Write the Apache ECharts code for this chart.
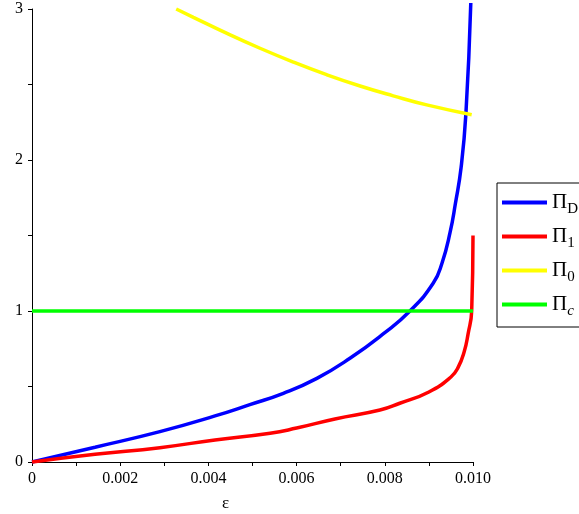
<!DOCTYPE html>
<html>
<head>
<meta charset="utf-8">
<script src="https://cdn.jsdelivr.net/npm/echarts@6/dist/echarts.min.js"></script>
<style>html,body{margin:0;padding:0;background:#fff;}#c{width:579px;height:514px;}</style>
</head>
<body>
<div id="c"></div>
<script>
var xTicks = [0, 0.002, 0.004, 0.006, 0.008, 0.010];
var yTicks = [0, 1, 2, 3];

var piD_eps = [0, 0.00143, 0.0029, 0.00415, 0.00494, 0.0057, 0.00646, 0.00721, 0.00797, 0.00857, 0.0091, 0.0093, 0.00948, 0.0096, 0.00973, 0.00984, 0.00995];
var piD_val = [0, 0.098, 0.201, 0.305, 0.38, 0.455, 0.554, 0.687, 0.85, 1.0, 1.185, 1.32, 1.52, 1.71, 1.95, 2.31, 3.04];

var pi1_eps = [0, 0.00143, 0.0029, 0.00415, 0.0054, 0.006, 0.00687, 0.00789, 0.00834, 0.009, 0.0095, 0.00966, 0.0098, 0.00989, 0.00997, 0.0100];
var pi1_val = [0, 0.051, 0.095, 0.146, 0.19, 0.225, 0.285, 0.344, 0.389, 0.464, 0.563, 0.625, 0.73, 0.85, 1.0, 1.5];

var pi0_eps = [0.00327, 0.00366, 0.00441, 0.00517, 0.00593, 0.00668, 0.00744, 0.00819, 0.00895, 0.00997];
var pi0_val = [3.0, 2.945, 2.84, 2.74, 2.648, 2.565, 2.49, 2.425, 2.365, 2.30];

var pic_eps = [0, 0.0100];
var pic_val = [1, 1];

var names = ['Π_D', 'Π_1', 'Π_0', 'Π_c'];
var colors = ['#0000ff', '#ff0000', '#ffff00', '#00ff00'];

function zip(a, b) { return a.map(function (v, i) { return [v, b[i]]; }); }

var font = '"Liberation Serif", "DejaVu Serif", serif';
var chart = echarts.init(document.getElementById('c'), null, {renderer: 'canvas'});

function mk(i, xs, ys) {
  return {
    name: names[i], type: 'line', data: zip(xs, ys), showSymbol: false,
    smooth: 0.5, clip: false,
    lineStyle: {color: colors[i], width: 3.5}, itemStyle: {color: colors[i]}
  };
}

chart.setOption({
  animation: false,
  backgroundColor: '#fff',
  grid: {left: 32, right: 106, top: 9, bottom: 52, containLabel: false},
  xAxis: {
    type: 'value', min: 0, max: 0.010, interval: 0.002,
    axisLine: {lineStyle: {color: '#000', width: 1}},
    axisTick: {show: true, length: 4, lineStyle: {color: '#000'}},
    minorTick: {show: true, splitNumber: 2, length: 4, lineStyle: {color: '#000'}},
    splitLine: {show: false},
    axisLabel: {color: '#000', fontFamily: font, fontSize: 16, margin: 9,
      formatter: function (v) { return v === 0 ? '0' : v.toFixed(3); }}
  },
  yAxis: {
    type: 'value', min: 0, max: 3, interval: 1,
    axisLine: {show: true, lineStyle: {color: '#000', width: 1}},
    axisTick: {show: true, length: 4, lineStyle: {color: '#000'}},
    minorTick: {show: true, splitNumber: 2, length: 4, lineStyle: {color: '#000'}},
    splitLine: {show: false},
    axisLabel: {color: '#000', fontFamily: font, fontSize: 16, margin: 9,
      formatter: function (v) { return String(v); }}
  },
  legend: {
    orient: 'vertical', left: 497, top: 183,
    padding: [5, 40, 8, 5], itemGap: 5,
    borderColor: '#000', borderWidth: 1, borderRadius: 0,
    itemWidth: 45, itemHeight: 4, icon: 'rect',
    data: names,
    formatter: function (n) {
      var p = n.split('_');
      return '{p|' + p[0] + '}{' + (p[1] === 'c' ? 'si' : 's') + '|' + p[1] + '}';
    },
    textStyle: {
      color: '#000', fontFamily: font,
      rich: {
        p: {fontSize: 21, fontFamily: font, color: '#000', lineHeight: 22, verticalAlign: 'middle'},
        s: {fontSize: 15, fontFamily: font, color: '#000', lineHeight: 15, verticalAlign: 'middle', padding: [14, 0, 0, 0]},
        si: {fontSize: 15, fontFamily: font, fontStyle: 'italic', color: '#000', lineHeight: 15, verticalAlign: 'middle', padding: [14, 0, 0, 0]}
      }
    }
  },
  graphic: [{
    type: 'text', left: 222, top: 495,
    style: {text: 'ε', fontFamily: font, fontSize: 17, fill: '#000'}
  }],
  series: [
    mk(0, piD_eps, piD_val),
    mk(1, pi1_eps, pi1_val),
    mk(2, pi0_eps, pi0_val),
    mk(3, pic_eps, pic_val)
  ]
});
</script>
</body>
</html>
